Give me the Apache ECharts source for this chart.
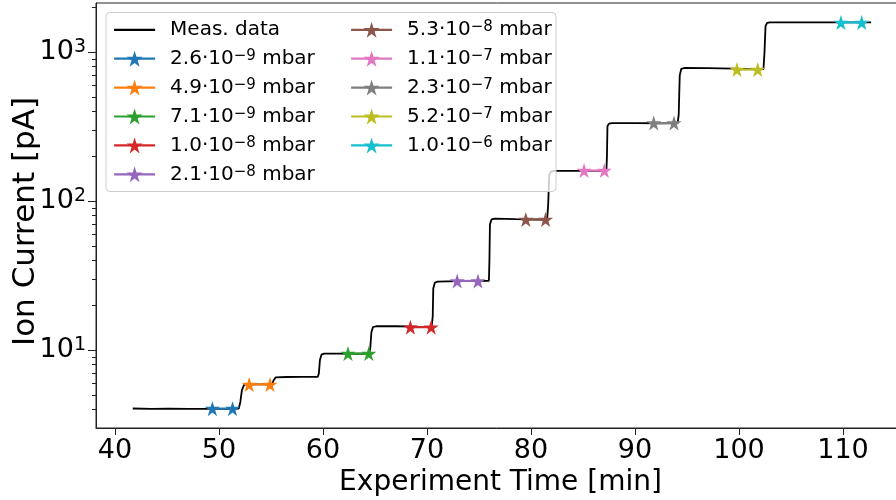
<!DOCTYPE html>
<html>
<head>
<meta charset="utf-8">
<script src="https://cdn.jsdelivr.net/npm/echarts@6/dist/echarts.min.js"></script>
<style>
  html, body { margin: 0; padding: 0; background: #fff; }
  #chart { width: 896px; height: 500px; }
</style>
</head>
<body>
<div id="chart"></div>
<script>
// Measured ion current trace: time [min] and current [pA]
const measTime = [41.7, 43.5, 45.2, 47.0, 49.0, 51.0, 51.9, 52.05, 52.2, 52.4, 52.6,
  53.8, 55.1, 55.25, 55.45, 56.5, 57.9, 58.0, 58.1, 59.5,
  59.6, 59.7, 59.85, 60.1, 61.5, 63.5, 64.45, 64.55, 64.65, 64.8, 65.1, 67.0, 69.0, 70.45,
  70.55, 70.6, 70.75, 71.0, 73.0, 75.0, 75.95, 76.0, 76.05, 76.2, 76.5, 78.5, 81.0, 81.55,
  81.65, 81.75, 81.9, 82.2, 84.5, 86.5, 87.25, 87.3, 87.35, 87.5, 87.8, 90.0, 92.5, 94.1,
  94.2, 94.3, 94.45, 94.8, 97.0, 99.5, 101.8, 102.35, 102.45, 102.55, 102.7, 103.0, 106.0,
  109.0, 112.7];
const measCurrent = [4.07, 4.05, 4.06, 4.04, 4.05, 4.05, 4.07, 4.5, 5.4, 5.85, 5.92,
  5.9, 5.91, 6.3, 6.58, 6.62, 6.64, 6.72, 6.63, 6.64,
  7.0, 8.6, 9.35, 9.5, 9.5, 9.48, 9.5, 10.5, 13.2, 14.3, 14.5, 14.5, 14.4, 14.35,
  17, 26, 28.4, 28.9, 29.1, 29.2, 29.3, 40, 70, 75.5, 76.5, 76.0, 75.5, 75.6,
  95, 150, 158, 160, 160, 160, 161, 200, 320, 332, 335, 335, 334, 335,
  380, 700, 775, 785, 782, 776, 768, 770, 1000, 1500, 1575, 1590, 1588,
  1590, 1590];

// Pressure levels (mantissa, exponent in mbar)
const pressureMantissa = ['2.6', '4.9', '7.1', '1.0', '2.1', '5.3', '1.1', '2.3', '5.2', '1.0'];
const pressureExponent = [-9, -9, -9, -8, -8, -8, -7, -7, -7, -6];
// Averaging window (start / end time) and current level for each pressure
const windowStart = [49.36, 52.9, 62.4, 68.4, 72.9, 79.5, 85.1, 91.8, 99.8, 109.8];
const windowEnd   = [51.3, 54.9, 64.4, 70.4, 74.9, 81.4, 87.05, 93.75, 101.8, 111.8];
const windowLevel = [4.06, 5.9, 9.5, 14.3, 29.2, 75.4, 161, 335, 766, 1585];

// Axis tick values
const xTicks = [40, 50, 60, 70, 80, 90, 100, 110];
const yMajorTicks = [10, 100, 1000];
const yMinorTicks = [4, 5, 6, 7, 8, 9, 20, 30, 40, 50, 60, 70, 80, 90,
  200, 300, 400, 500, 600, 700, 800, 900, 2000];

const palette = ['#1f77b4', '#ff7f0e', '#2ca02c', '#d62728', '#9467bd',
  '#8c564b', '#e377c2', '#7f7f7f', '#bcbd22', '#17becf'];

const FONT = 'DejaVu Sans';
const STAR = 'path://M50,0 L61.23,34.55 L97.55,34.55 L68.17,55.9 L79.39,90.45 L50,69.1 L20.61,90.45 L31.83,55.9 L2.45,34.55 L38.77,34.55 Z';
const PLAIN_LINE = 'path://M0,0 L41,0 L41,2.2 L0,2.2 Z';

const pressureNames = pressureMantissa.map((m, i) => m + '·10^' + pressureExponent[i] + ' mbar');

function legendLabel(name) {
  const i = pressureNames.indexOf(name);
  if (i < 0) return '{t|' + name + '}';
  return '{t|' + pressureMantissa[i] + '·10}{s|−' + Math.abs(pressureExponent[i]) + '}{t| mbar}';
}

const series = [{
  name: 'Meas. data',
  type: 'line',
  data: measTime.map((t, i) => [t, measCurrent[i]]),
  symbol: 'none',
  lineStyle: { color: '#000', width: 1.8 },
  itemStyle: { color: '#000' },
  z: 2,
  animation: false
}];
pressureNames.forEach((name, i) => {
  series.push({
    name: name,
    type: 'line',
    data: [[windowStart[i], windowLevel[i]], [windowEnd[i], windowLevel[i]]],
    symbol: STAR,
    symbolSize: 15,
    showAllSymbol: true,
    lineStyle: { color: palette[i], width: 2.2 },
    itemStyle: { color: palette[i] },
    z: 3,
    animation: false
  });
});

const legendText = {
  fontFamily: FONT,
  color: '#000',
  padding: [0, 0, 0, 10],
  rich: {
    t: { fontFamily: FONT, fontSize: 20, lineHeight: 20, color: '#000' },
    s: { fontFamily: FONT, fontSize: 15, lineHeight: 15, color: '#000', verticalAlign: 'top' }
  }
};

const legendCommon = {
  orient: 'vertical',
  top: 14.8,
  padding: 5,
  itemWidth: 41, itemHeight: 20,
  itemGap: 8.9,
  symbolKeepAspect: true,
  lineStyle: { width: 2.2 },
  formatter: legendLabel,
  textStyle: legendText,
  z: 10
};

const chart = echarts.init(document.getElementById('chart'), null, { renderer: 'canvas' });
chart.setOption({
  animation: false,
  backgroundColor: '#fff',
  grid: {
    left: 96, top: 3, width: 809, height: 425,
    outerBoundsMode: 'none',
    containLabel: false,
    show: true, borderColor: '#222', borderWidth: 1, backgroundColor: 'transparent'
  },
  xAxis: {
    type: 'value',
    min: 38.17, max: 115.96,
    name: 'Experiment Time [min]',
    nameLocation: 'middle',
    nameGap: 36,
    nameTextStyle: { fontFamily: FONT, fontSize: 28, color: '#000' },
    axisLine: { show: true, onZero: false, lineStyle: { color: '#222', width: 1 } },
    axisTick: { show: true, inside: false, length: 7, customValues: xTicks, lineStyle: { color: '#222', width: 1 } },
    axisLabel: { customValues: xTicks, fontFamily: FONT, fontSize: 27, color: '#000', margin: 9 },
    splitLine: { show: false }
  },
  yAxis: [{
    type: 'log',
    logBase: 10,
    min: 3.01, max: 2142,
    name: 'Ion Current [pA]',
    nameLocation: 'middle',
    nameGap: 55,
    nameMoveOverlap: false,
    nameTextStyle: { fontFamily: FONT, fontSize: 31, color: '#000', padding: [0, 12, 0, 0] },
    axisLine: { show: true, lineStyle: { color: '#222', width: 1 } },
    axisTick: { show: true, inside: false, length: 8, customValues: yMajorTicks, lineStyle: { color: '#222', width: 1 } },
    axisLabel: {
      customValues: yMajorTicks,
      margin: 10,
      formatter: v => '{b|10}{s|' + Math.round(Math.log10(v)) + '}',
      rich: {
        b: { fontFamily: FONT, fontSize: 27, lineHeight: 30, color: '#000' },
        s: { fontFamily: FONT, fontSize: 19, lineHeight: 19, color: '#000', verticalAlign: 'top' }
      }
    },
    splitLine: { show: false }
  }, {
    type: 'log',
    logBase: 10,
    min: 3.01, max: 2142,
    position: 'left',
    axisLine: { show: false },
    axisTick: { show: true, inside: false, length: 4, customValues: yMinorTicks, lineStyle: { color: '#222', width: 1 } },
    axisLabel: { show: false },
    splitLine: { show: false }
  }],
  legend: [Object.assign({}, legendCommon, {
    left: 108,
    data: [{ name: 'Meas. data', icon: PLAIN_LINE }].concat(pressureNames.slice(0, 5))
  }), Object.assign({}, legendCommon, {
    left: 345,
    data: pressureNames.slice(5)
  })],
  graphic: [{
    type: 'rect',
    shape: { x: 106, y: 12.5, width: 450, height: 179, r: 4 },
    style: { fill: 'rgba(255,255,255,0.8)', stroke: '#cccccc', lineWidth: 1 },
    z: 5,
    silent: true
  }],
  series: series
});
</script>
</body>
</html>
